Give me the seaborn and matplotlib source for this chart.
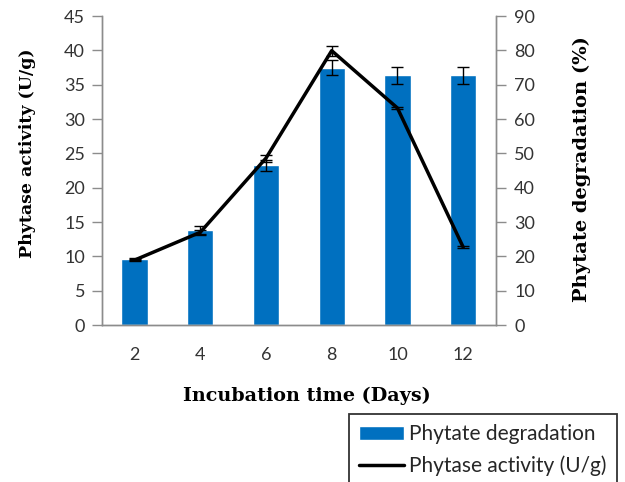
import matplotlib
matplotlib.use("Agg")
import matplotlib.pyplot as plt
import seaborn as sns
import pandas as pd
import numpy as np

days = ["2", "4", "6", "8", "10", "12"]
degradation = [19.1, 27.7, 46.6, 75.0, 72.7, 72.7]      # % (right axis, bars)
degradation_err = [0.3, 1.2, 1.6, 2.3, 2.4, 2.4]
activity = [9.45, 13.5, 24.3, 39.95, 31.6, 11.35]        # U/g (left axis, line)
activity_err = [0.2, 0.4, 0.5, 0.75, 0.15, 0.15]

df = pd.DataFrame({"day": days, "deg": degradation, "act": activity})

sns.set_theme(style="white")
plt.rcParams["font.family"] = ["Lato", "DejaVu Sans"]

fig = plt.figure(figsize=(6.25, 4.82), dpi=100)
ax = fig.add_axes([0.1627, 0.3257, 0.6309, 0.6411])
ax2 = ax.twinx()

blue = "#0070C0"
gray = "#8C8C8C"
tick_color = "#333333"

sns.barplot(data=df, x="day", y="deg", ax=ax2, color=blue, width=0.4,
            saturation=1, errorbar=None, label="Phytate degradation", legend=False)
ax2.errorbar(np.arange(len(days)), degradation, yerr=degradation_err, fmt="none",
             ecolor="black", elinewidth=1, capsize=4.5, capthick=1)

sns.pointplot(data=df, x="day", y="act", ax=ax, color="black", markers="",
              linewidth=2.5, errorbar=None, label="Phytase activity (U/g)", legend=False)
ax.errorbar(np.arange(len(days)), activity, yerr=activity_err, fmt="none",
            ecolor="black", elinewidth=1, capsize=4.5, capthick=1)

for a in (ax, ax2):
    if a.get_legend() is not None:
        a.get_legend().remove()

ax.set_zorder(ax2.get_zorder() + 1)
ax.patch.set_visible(False)

ax.set_ylim(0, 45)
ax.set_yticks(np.arange(0, 46, 5))
ax2.set_ylim(0, 90)
ax2.set_yticks(np.arange(0, 91, 10))
ax.set_xlim(-0.5, 5.5)
ax2.set_xlim(-0.5, 5.5)
ax.set_xticks(np.arange(6))
ax.set_xticklabels(days)
ax.set_xticks(np.arange(-0.5, 6, 1), minor=True)
ax.tick_params(axis="x", which="major", length=0, pad=16, labelsize=13, labelcolor=tick_color)
ax.tick_params(axis="x", which="minor", length=7, width=1, color=gray, direction="out")
ax.tick_params(axis="y", length=7, width=1, color=gray, direction="out", left=True,
               labelsize=13, labelcolor=tick_color, pad=5)
ax2.tick_params(axis="y", length=7, width=1, color=gray, direction="out", right=True,
                labelsize=13, labelcolor=tick_color, pad=6)
ax2.tick_params(axis="x", length=0)

for a in (ax, ax2):
    a.spines["top"].set_visible(False)
    for s in ("left", "right", "bottom"):
        a.spines[s].set_color(gray)
        a.spines[s].set_linewidth(1)

serif = ["DejaVu Serif"]
ax.set_xlabel("Incubation time (Days)", family=serif, weight="bold", size=13.8, color="black")
ax.set_ylabel("Phytase activity (U/g)", family=serif, weight="bold", size=12.5, color="black")
ax2.set_ylabel("Phytate degradation (%)", family=serif, weight="bold", size=14, color="black")
ax.xaxis.set_label_coords(0.52, -0.2)
ax.yaxis.set_label_coords(-0.166, 0.557)
ax2.yaxis.set_label_coords(1.195, 0.505)

h2, l2 = ax2.get_legend_handles_labels()
h1, l1 = ax.get_legend_handles_labels()
leg = fig.legend(h2[:1] + h1[:1], ["Phytate degradation", "Phytase activity (U/g)"],
                 loc="upper left",
                 bbox_to_anchor=(349 / 625, 1 - 414 / 482), borderaxespad=0,
                 frameon=True, fancybox=False, edgecolor="black",
                 prop={"family": ["Lato", "DejaVu Sans"], "size": 15},
                 handlelength=2.15, handletextpad=0.25, borderpad=0.5, labelspacing=0.55)
leg.get_frame().set_linewidth(1.3)

fig.savefig("out.png", dpi=100)
